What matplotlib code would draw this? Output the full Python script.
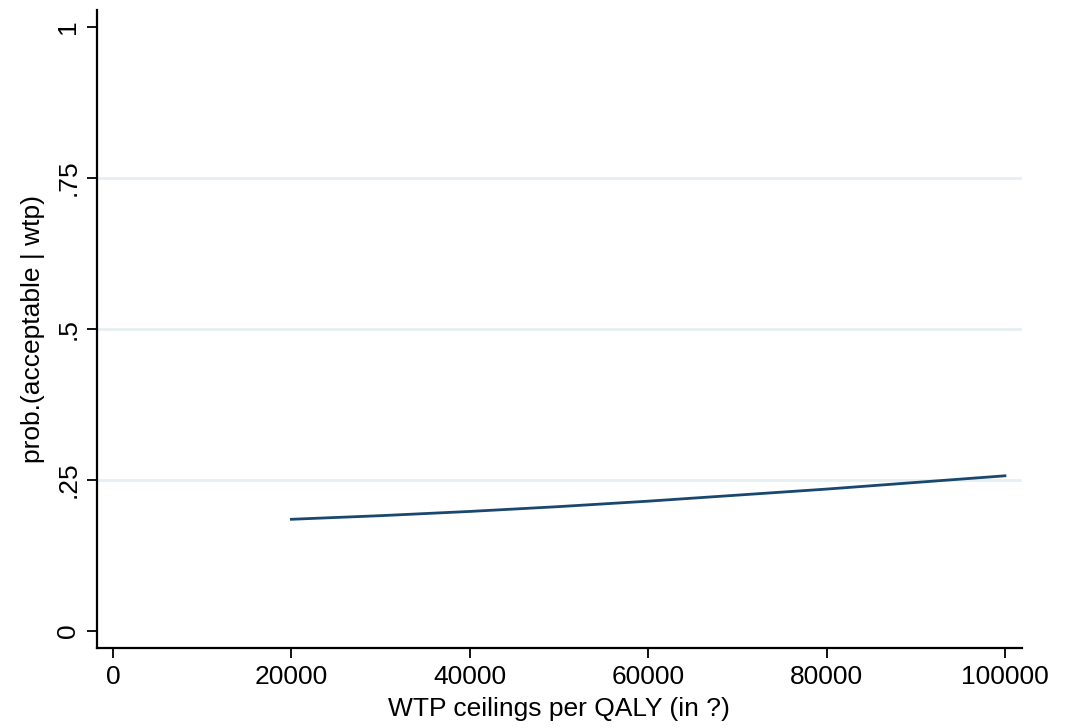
import matplotlib
matplotlib.use('Agg')
import matplotlib.pyplot as plt

# WTP ceilings and probability that the intervention is cost-effective
wtp = [20000, 30000, 40000, 50000, 60000, 70000, 80000, 90000, 100000]
prob = [0.185, 0.191, 0.198, 0.206, 0.215, 0.225, 0.235, 0.246, 0.257]

x_ticks = [0, 20000, 40000, 60000, 80000, 100000]
x_labels = ['0', '20000', '40000', '60000', '80000', '100000']
y_ticks = [0, 0.25, 0.5, 0.75, 1]
y_labels = ['0', '.25', '.5', '.75', '1']

plt.rcParams['font.family'] = ['Liberation Sans', 'DejaVu Sans']

fig = plt.figure(figsize=(10.68, 7.28), dpi=100)
ax = fig.add_axes([0.0908, 0.110, 0.866, 0.876])

# light horizontal grid lines (Stata style, only inner ticks)
for yv in y_ticks[1:-1]:
    ax.axhline(yv, color='#e6eff1', linewidth=2, zorder=1)

ax.plot(wtp, prob, color='#1a476f', linewidth=2.0, zorder=3)

ax.set_xlim(-1800, 101900)
ax.set_ylim(-0.028, 1.028)

ax.set_xticks(x_ticks)
ax.set_xticklabels(x_labels)
ax.set_yticks(y_ticks)
ax.set_yticklabels(y_labels, rotation=90, va='center')

ax.spines['top'].set_visible(False)
ax.spines['right'].set_visible(False)
ax.spines['left'].set_linewidth(1.6)
ax.spines['bottom'].set_linewidth(1.6)
ax.tick_params(axis='both', direction='out', length=7, width=1.3,
               labelsize=19, pad=5)

ax.set_xlabel('WTP ceilings per QALY (in ?)', fontsize=19, labelpad=6)
ax.set_ylabel('prob.(acceptable | wtp)', fontsize=19, labelpad=8)

fig.savefig('out.png', dpi=100, facecolor='white')
